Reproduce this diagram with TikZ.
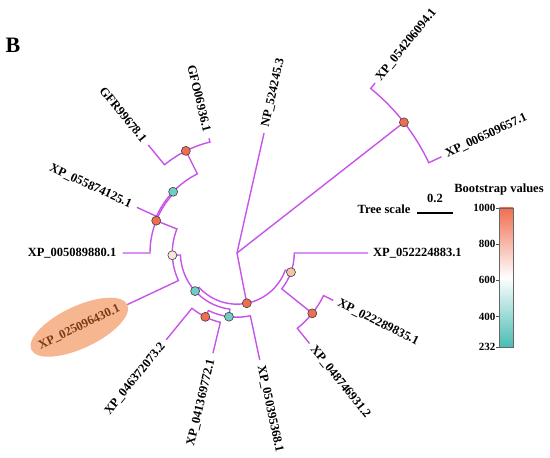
\documentclass[tikz,border=0pt]{standalone}
\usepackage{fontspec}
\setmainfont{Liberation Serif}
\usetikzlibrary{calc,positioning}
\definecolor{treeviolet}{RGB}{198,84,232}
\definecolor{bshigh}{RGB}{240,110,80}
\definecolor{bslow}{RGB}{72,188,178}
\definecolor{bscyan}{RGB}{110,206,198}
\definecolor{bspale}{RGB}{250,228,220}
\definecolor{bspeach}{RGB}{247,194,172}
\definecolor{hlfill}{RGB}{246,182,144}
\definecolor{hltext}{RGB}{122,60,20}
\newcommand{\lblfont}{\fontsize{12.5}{14}\selectfont\bfseries}
% one clade: arc radius, first child angle/radius, second child angle/radius
\newcommand{\brclade}[5]{\draw[branch] (#2:#3) -- (#2:#1) arc[start angle=#2, end angle=#4, radius=#1] -- (#4:#5);}

\begin{document}
\begin{tikzpicture}[x=1pt, y=1pt, font=\lblfont,
    branch/.style={draw=treeviolet, line width=1.4pt},
    bs/.style={circle, draw=black!75, line width=0.6pt, fill=#1, inner sep=0pt, minimum size=9pt},
    leafr/.style={anchor=west, inner sep=0pt},
    leafl/.style={anchor=east, inner sep=0pt}]
  \useasboundingbox (0,0) rectangle (550,458);
  \node (panel) at (13,413) {\fontsize{22}{24}\selectfont\bfseries B};

  \begin{scope}[shift={(237,205)}]
    % root stems
    \coordinate (root) at (0,0);
    \draw[branch] (root) -- (77.3:123);
    \draw[branch] (root) -- (38.05:212);
    \draw[branch] (root) -- (281:51.2);
    % clades
    \brclade{212}{25.2}{226}{50.9}{219}
    \brclade{51.2}{222.3}{56.6}{340.4}{57.3}
    \brclade{57.3}{321.3}{96.5}{360}{131}
    \brclade{96.5}{308.7}{116}{333.8}{107.3}
    \brclade{56.6}{182}{64.7}{262.8}{64.2}
    \brclade{64.7}{158.2}{87}{205.2}{122}
    \brclade{87}{136.2}{88.5}{180}{114.3}
    \brclade{88.5}{116.6}{114.2}{155.5}{110}
    \brclade{114.2}{103.7}{118}{129.4}{139.8}
    \brclade{64.2}{243.6}{71.3}{282}{109.4}
    \brclade{71.3}{230.8}{112}{256.5}{103}

    % bootstrap circles
    \node[bs=bshigh] (nX) at (38.05:212) {};
    \node[bs=bshigh] (nA) at (281:51.2) {};
    \node[bs=bspeach] (nP) at (340.4:57.3) {};
    \node[bs=bshigh] (nQ) at (321.3:96.5) {};
    \node[bs=bscyan] (nB) at (222.3:56.6) {};
    \node[bs=bspale] (nE) at (182:64.7) {};
    \node[bs=bshigh] (nD) at (158.2:87) {};
    \node[bs=bscyan] (nG) at (136.2:88.5) {};
    \node[bs=bshigh] (nF) at (116.6:114.2) {};
    \node[bs=bscyan] (nH) at (262.8:64.2) {};
    \node[bs=bshigh] (nI) at (243.6:71.3) {};

    % leaf labels
    \node[leafr, rotate=77.3] (lNP) at (77.3:129) {NP\_524245.3};
    \node[leafr, rotate=50.9] (l0542) at (50.9:224) {XP\_054206094.1};
    \node[leafr, rotate=25.2] (l0065) at (25.2:231) {XP\_006509657.1};
    \node[leafr] (l0522) at (0:136) {XP\_052224883.1};
    \node[leafr, rotate=-26.2] (l0222) at (-26.2:113) {XP\_022289835.1};
    \node[leafr, rotate=-51.3] (l0487) at (-51.3:121) {XP\_048746931.2};
    \node[leafr, rotate=-78] (l0503) at (-78:115) {XP\_050395368.1};
    \node[leafl, rotate=76.5] (l0413) at (256.5:109.5) {XP\_041369772.1};
    \node[leafl, rotate=51] (l0463) at (231:117.5) {XP\_046372073.2};
    \fill[hlfill, rotate around={25.2:(205.2:174.3)}] (205.2:174.3) ellipse[x radius=53, y radius=21];
    \node[inner sep=0pt, rotate=25.2, text=hltext] (l0250) at (205.2:174.3) {XP\_025096430.1};
    \node[leafl] (l0050) at (180:120.5) {XP\_005089880.1};
    \node[leafl, rotate=-24.5] (l0558) at (155.5:116.5) {XP\_055874125.1};
    \node[leafl, rotate=-50.6] (lGFR) at (129.4:145.5) {GFR99678.1};
    \node[leafl, rotate=-76.3] (lGFO) at (103.7:125) {GFO06936.1};
  \end{scope}

  % tree scale
  \node (tslab) at (384,249) {Tree scale};
  \coordinate (tsa) at (417,245);
  \coordinate (tsb) at (453,245);
  \draw[line width=1.6pt] (tsa) -- (tsb);
  \node[above=10pt, inner sep=0pt] (tsval) at ($(tsa)!0.5!(tsb)$) {0.2};

  % bootstrap legend
  \node (cbtitle) at (499,269) {Bootstrap values};
  \node[draw=black!60, line width=0.6pt, inner sep=0pt, minimum width=14pt, minimum height=139pt,
        top color=bshigh, bottom color=bslow, middle color=white] (cbar) at (506.3,180.5) {};
  \foreach \v/\y in {1000/250, 800/213.9, 600/177.8, 400/141.6, 232/111}{
    \draw[black!70, line width=0.6pt] (496,\y) -- (cbar.west |- 0,\y);
    \node[anchor=east, inner sep=0.5pt, font=\fontsize{11}{12}\selectfont\bfseries] (tk\v) at (496,\y) {\v};
  }
\end{tikzpicture}
\end{document}
